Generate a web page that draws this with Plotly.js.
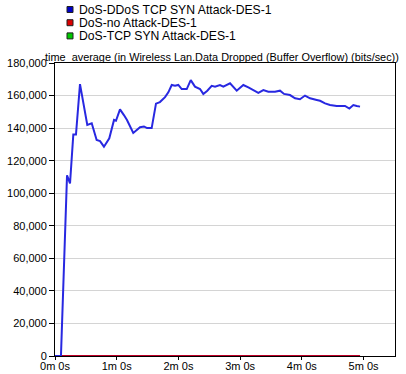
<!DOCTYPE html>
<html><head><meta charset="utf-8">
<script src="https://cdn.plot.ly/plotly-3.0.1.min.js"></script>
<style>html,body{margin:0;padding:0;background:#fff;}#chart{width:406px;height:374px;}</style>
</head><body><div id="chart"></div>
<script>
// seconds
const ddosTime = [0, 5.8, 11.7, 14.6, 17.8, 20.4, 24.3, 31.4, 35.7, 40.5, 43.8, 47.6, 52.8, 57.4, 59.3, 63.2, 67, 70, 76.1, 82.7, 86.5, 89.5, 94, 98.2, 102, 107, 110.2, 113.5, 116.7, 119.9, 123.2, 128.1, 132, 136.1, 141, 144.2, 148.1, 152.4, 155.6, 160.4, 163.7, 170.2, 176.7, 183.1, 188, 192.8, 197.7, 202.6, 207.4, 213.9, 218.8, 222.7, 228.5, 233.4, 238.2, 243.1, 248, 254.5, 257.7, 262.6, 267.4, 273.9, 282, 286.2, 290.1, 293.4, 296.6];
const ddosValues = [0, 0, 111000, 106000, 136000, 136000, 167000, 142000, 143000, 132700, 132000, 128600, 133700, 145000, 144500, 151500, 148000, 145000, 137000, 140500, 141000, 140000, 140000, 155000, 156000, 159000, 162000, 166500, 166000, 166500, 164000, 164000, 169500, 165500, 164000, 161000, 163000, 166000, 165500, 166500, 165500, 167500, 163000, 166500, 165000, 163400, 161700, 163400, 162400, 162400, 163000, 161000, 160300, 158300, 157700, 160000, 158300, 157300, 156800, 155200, 154200, 153600, 153600, 152000, 154200, 153600, 153200];
const noAttackTime = [5.8, 296.6];
const noAttackValues = [0, 0];
const synTime = [5.8, 296.6];
const synValues = [0, 0];
const seriesNames = ["DoS-DDoS TCP SYN Attack-DES-1", "DoS-no Attack-DES-1", "DoS-TCP SYN Attack-DES-1"];
const xTickVals = [0, 60, 120, 180, 240, 300];
const xTickText = ["0m 0s", "1m 0s", "2m 0s", "3m 0s", "4m 0s", "5m 0s"];
const yTickVals = [0, 20000, 40000, 60000, 80000, 100000, 120000, 140000, 160000, 180000];
const titleText = "time_average (in Wireless Lan.Data Dropped (Buffer Overflow) (bits/sec))";

const lineColors = ["rgb(40,40,225)", "rgb(190,0,40)", "rgb(0,190,0)"];
const boxColors = ["rgb(0,0,200)", "rgb(220,0,0)", "rgb(0,200,0)"];

const traces = [
  {x: synTime, y: synValues, mode: "lines", line: {color: lineColors[2], width: 2}, name: seriesNames[2], showlegend: false, cliponaxis: false},
  {x: noAttackTime, y: noAttackValues, mode: "lines", line: {color: lineColors[1], width: 2}, name: seriesNames[1], showlegend: false, cliponaxis: false},
  {x: ddosTime, y: ddosValues, mode: "lines", line: {color: lineColors[0], width: 2}, name: seriesNames[0], showlegend: false, cliponaxis: false}
];

const font = {family: "Liberation Sans, Arial, sans-serif", size: 11, color: "#000"};
const legendFont = {family: "Liberation Sans, Arial, sans-serif", size: 12.2, color: "#000"};
const shapes = [];
const annotations = [];
seriesNames.forEach((n, i) => {
  const yc = 9.5 + i * 13.2;
  shapes.push({type: "rect", xref: "paper", yref: "paper", layer: "above",
    x0: (67 - 55) / 340, x1: (73 - 55) / 340,
    y0: (356 - (yc + 3)) / 293, y1: (356 - (yc - 3)) / 293,
    fillcolor: boxColors[i], line: {color: "#202020", width: 1}});
  annotations.push({xref: "paper", yref: "paper", x: (77 - 55) / 340, y: (356 - yc) / 293,
    xanchor: "left", yanchor: "middle", showarrow: false, text: n, font: legendFont});
});

const layout = {
  width: 406, height: 374,
  margin: {l: 55, r: 11, t: 63, b: 18, pad: 0},
  paper_bgcolor: "#fff", plot_bgcolor: "#fff",
  font: font,
  showlegend: false,
  title: {text: titleText, xref: "container", yref: "container", x: 45 / 406, xanchor: "left",
    y: 1 - 57 / 374, yanchor: "middle", font: {family: "Liberation Sans, Arial, sans-serif", size: 10.9, color: "#000"}},
  xaxis: {range: [0, 330.6], tickvals: xTickVals, ticktext: xTickText, ticks: "outside", ticklen: 3,
    tickcolor: "#000", showline: true, linecolor: "#000", linewidth: 1, mirror: true, layer: "below traces",
    showgrid: false, zeroline: false, automargin: false, tickfont: font, fixedrange: true, ticklabelstandoff: -3},
  yaxis: {range: [0, 180000], tickvals: yTickVals, tickformat: ",d", ticks: "outside", ticklen: 5,
    tickcolor: "#000", showline: true, linecolor: "#000", linewidth: 1, mirror: true, layer: "below traces",
    showgrid: true, gridcolor: "#d4d4d4", gridwidth: 1, zeroline: false, automargin: false,
    tickfont: font, fixedrange: true},
  shapes: shapes,
  annotations: annotations
};
Plotly.newPlot("chart", traces, layout, {displayModeBar: false, staticPlot: true});
</script></body></html>
